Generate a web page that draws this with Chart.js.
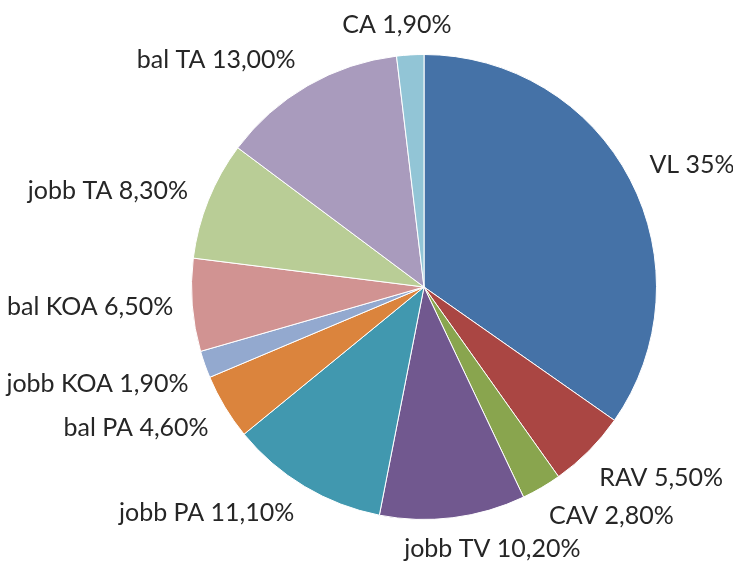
<!DOCTYPE html>
<html>
<head>
<meta charset="utf-8">
<script src="https://cdn.jsdelivr.net/npm/chart.js@4/dist/chart.umd.min.js"></script>
<style>
  html, body { margin: 0; padding: 0; background: #fff; }
  #wrap { width: 733px; height: 563px; }
</style>
</head>
<body>
<div id="wrap"><canvas id="myChart" width="733" height="563"></canvas></div>
<script>
var categorias = ['VL', 'RAV', 'CAV', 'jobb TV', 'jobb PA', 'bal PA', 'jobb KOA', 'bal KOA', 'jobb TA', 'bal TA', 'CA'];
var valores = [35, 5.5, 2.8, 10.2, 11.1, 4.6, 1.9, 6.5, 8.3, 13.0, 1.9];
var etiquetas = ['VL 35%', 'RAV 5,50%', 'CAV 2,80%', 'jobb TV 10,20%', 'jobb PA 11,10%', 'bal PA 4,60%',
                 'jobb KOA 1,90%', 'bal KOA 6,50%', 'jobb TA 8,30%', 'bal TA 13,00%', 'CA 1,90%'];
var colores = ['#4572A7', '#AA4643', '#89A54E', '#71588F', '#4198AF', '#DB843D',
               '#93A9CF', '#D19392', '#B9CD96', '#A99BBD', '#92C5D6'];
// giro de cada etiqueta respecto al centro de su porcion (grados), para que no se amontonen
var ajusteEtiqueta = [3, -6, -9, -7.5, 13, 5, 3, 1, -5, -12.5, -2.5];

// etiquetas fuera del pastel, pegadas al borde
const etiquetasFuera = {
    id: 'etiquetasFuera',
    afterDatasetsDraw(chart) {
        const ctx = chart.ctx;
        const meta = chart.getDatasetMeta(0);
        ctx.save();
        ctx.font = '25px Lato';
        ctx.fillStyle = '#262626';
        ctx.textAlign = 'center';
        ctx.textBaseline = 'middle';
        meta.data.forEach(function(arc, i){
            const p = arc.getProps(['x', 'y', 'startAngle', 'endAngle', 'outerRadius'], true);
            const a = (p.startAngle + p.endAngle) / 2 + ajusteEtiqueta[i] * Math.PI / 180;
            const ux = Math.cos(a), uy = Math.sin(a);
            const hw = ctx.measureText(etiquetas[i]).width / 2;
            const hh = 11;
            const lim = p.outerRadius + 18;
            let t = p.outerRadius;
            for(; t < p.outerRadius + 200; t++){
                const nx = Math.max(0, Math.abs(t * ux) - hw);
                const ny = Math.max(0, Math.abs(t * uy) - hh);
                if(Math.hypot(nx, ny) >= lim) break;
            }
            ctx.fillText(etiquetas[i], p.x + t * ux, p.y + t * uy);
        });
        ctx.restore();
    }
};

const ctx = document.getElementById('myChart').getContext('2d');
const chart = new Chart(ctx, {
    type: 'pie',
    data: {
        labels: categorias,
        datasets: [{
            data: valores,
            backgroundColor: colores,
            borderColor: '#fff',
            borderWidth: 1
        }]
    },
    options: {
        responsive: false,
        animation: false,
        layout: { padding: { left: 191, right: 76, top: 54, bottom: 43 } },
        plugins: {
            legend: { display: false },
            tooltip: { enabled: false }
        }
    },
    plugins: [etiquetasFuera]
});
</script>
</body>
</html>
